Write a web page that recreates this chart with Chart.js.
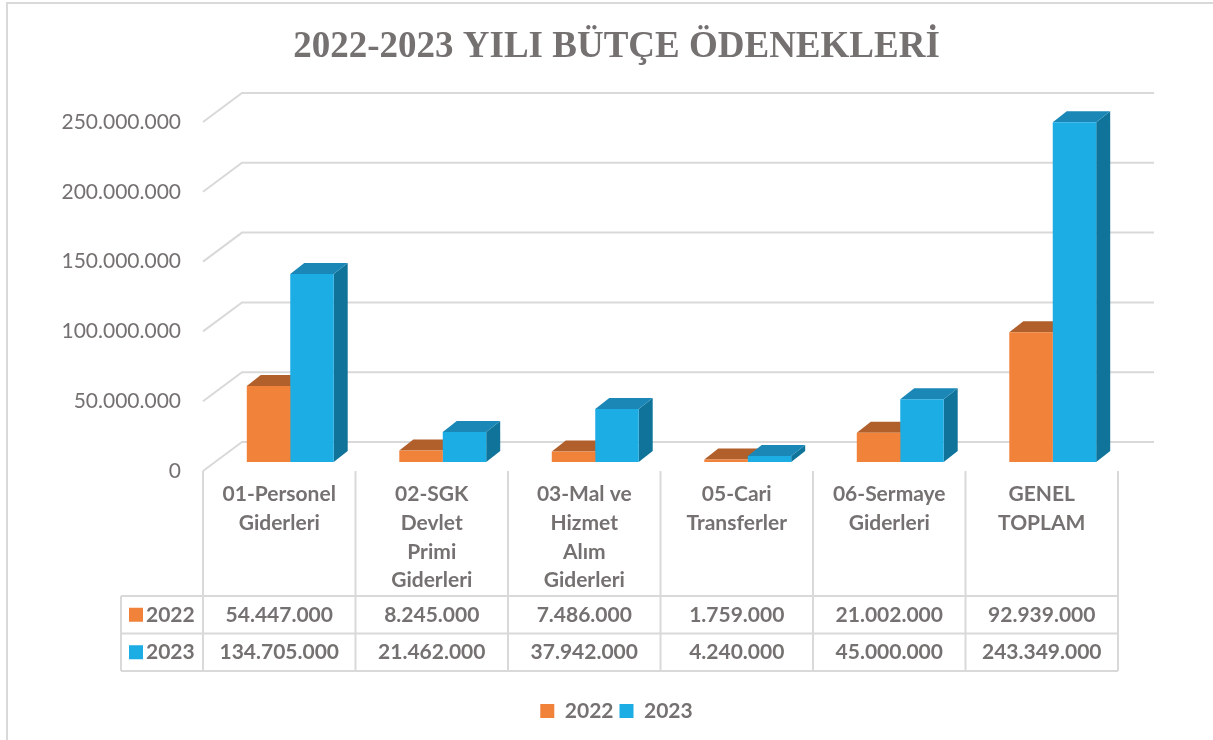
<!DOCTYPE html>
<html lang="tr">
<head>
<meta charset="UTF-8">
<title>2022-2023 Yılı Bütçe Ödenekleri</title>
<script src="https://cdn.jsdelivr.net/npm/chart.js"></script>
<style>
    html, body { margin: 0; padding: 0; background: #fff; overflow: hidden; }
    .wrap { position: relative; width: 1213px; height: 740px; overflow: hidden; }
    .frame { position: absolute; left: 6px; top: 2px; width: 1240px; height: 800px; border: 2px solid #d9d9d9; box-sizing: border-box; }
    .box { position: absolute; left: 0; top: 0; width: 1213px; height: 740px; }
</style>
</head>
<body>
<div class="wrap">
    <div class="frame"></div>
    <div class="box"><canvas id="budgetChart"></canvas></div>
</div>

<script>
    // Data
    var categories = [
        ['01-Personel', 'Giderleri'],
        ['02-SGK', 'Devlet', 'Primi', 'Giderleri'],
        ['03-Mal ve', 'Hizmet', 'Alım', 'Giderleri'],
        ['05-Cari', 'Transferler'],
        ['06-Sermaye', 'Giderleri'],
        ['GENEL', 'TOPLAM']
    ];
    var seriesNames = ['2022', '2023'];
    var values2022 = [54447000, 8245000, 7486000, 1759000, 21002000, 92939000];
    var values2023 = [134705000, 21462000, 37942000, 4240000, 45000000, 243349000];
    var yMax = 250000000;
    var yStep = 50000000;

    // Styles
    var textColor = '#767171';
    var gridColor = '#d9d9d9';
    var fronts = ['#f0823a', '#1cade4'];
    var tops = ['#b1602c', '#1a87b7'];
    var sides = ['#a4561f', '#10749a'];

    // 3D offsets
    var DX = 14, DY = -11;        // bar depth
    var WX = 39, WY = -29;        // wall depth
    var SHIFT_X = -11, SHIFT_Y = 9;   // bar plane -> front plane

    function fmt(v) {
        return String(v).replace(/\B(?=(\d{3})+(?!\d))/g, '.');
    }

    var bar3d = {
        id: 'bar3d',
        beforeDatasetsDraw: function(chart) {
            var ctx = chart.ctx, ys = chart.scales.y;
            var left = chart.chartArea.left + SHIFT_X;
            var right = chart.chartArea.right + SHIFT_X;
            ctx.save();
            // back wall + left side grid
            ctx.strokeStyle = gridColor;
            ctx.lineWidth = 2;
            ys.ticks.forEach(function(t) {
                var py = ys.getPixelForValue(t.value) + SHIFT_Y;
                ctx.beginPath();
                ctx.moveTo(left, py);
                ctx.lineTo(left + WX, py + WY);
                ctx.lineTo(right + WX - 3, py + WY);
                ctx.stroke();
            });
            // top and side faces
            var metas = chart.getSortedVisibleDatasetMetas();
            for (var i = 0; i < categories.length; i++) {
                metas.forEach(function(meta, d) {
                    var el = meta.data[i];
                    var l = el.x - el.width / 2, r = el.x + el.width / 2;
                    var t = el.y, b = el.base;
                    ctx.fillStyle = sides[d];
                    ctx.beginPath();
                    ctx.moveTo(r, t);
                    ctx.lineTo(r + DX, t + DY);
                    ctx.lineTo(r + DX, b + DY);
                    ctx.lineTo(r, b);
                    ctx.closePath();
                    ctx.fill();
                    ctx.fillStyle = tops[d];
                    ctx.beginPath();
                    ctx.moveTo(l, t);
                    ctx.lineTo(r, t);
                    ctx.lineTo(r + DX, t + DY);
                    ctx.lineTo(l + DX, t + DY);
                    ctx.closePath();
                    ctx.fill();
                });
            }
            ctx.restore();
        },
        afterDraw: function(chart) {
            // data table
            var ctx = chart.ctx, xs = chart.scales.x, ys = chart.scales.y;
            var left = chart.chartArea.left + SHIFT_X;
            var right = chart.chartArea.right + SHIFT_X;
            var cw = (right - left) / categories.length;
            var top = ys.getPixelForValue(0) + SHIFT_Y;
            var rowTop = 596, rowH = 37.5, headLeft = 121;
            var bottom = rowTop + rowH * 2;
            ctx.save();
            ctx.strokeStyle = gridColor;
            ctx.lineWidth = 2;
            ctx.beginPath();
            for (var i = 0; i <= categories.length; i++) {
                ctx.moveTo(left + i * cw, top);
                ctx.lineTo(left + i * cw, bottom);
            }
            ctx.moveTo(headLeft, rowTop);
            ctx.lineTo(headLeft, bottom);
            for (var k = 0; k <= 2; k++) {
                ctx.moveTo(headLeft, rowTop + k * rowH);
                ctx.lineTo(right, rowTop + k * rowH);
            }
            ctx.stroke();

            ctx.font = 'bold 21px Lato';
            ctx.fillStyle = textColor;
            ctx.textBaseline = 'middle';
            var rows = [values2022, values2023];
            rows.forEach(function(vals, r) {
                var cy = rowTop + rowH * r + rowH / 2;
                ctx.fillStyle = fronts[r];
                ctx.fillRect(129, cy - 7, 14, 14);
                ctx.fillStyle = textColor;
                ctx.textAlign = 'left';
                ctx.fillText(seriesNames[r], 146, cy);
                ctx.textAlign = 'center';
                vals.forEach(function(v, i) {
                    ctx.fillText(fmt(v), xs.getPixelForValue(i) + SHIFT_X, cy);
                });
            });
            ctx.restore();
        }
    };

    var ctx = document.getElementById('budgetChart').getContext('2d');
    var budgetChart = new Chart(ctx, {
        type: 'bar',
        data: {
            labels: categories,
            datasets: [{
                label: seriesNames[0],
                data: values2022,
                backgroundColor: fronts[0],
                borderWidth: 0
            }, {
                label: seriesNames[1],
                data: values2023,
                backgroundColor: fronts[1],
                borderWidth: 0
            }]
        },
        options: {
            responsive: true,
            maintainAspectRatio: false,
            animation: false,
            categoryPercentage: 0.57,
            barPercentage: 1,
            layout: { padding: { left: 20, right: 0, top: 0, bottom: 8.5 } },
            plugins: {
                title: {
                    display: true,
                    text: '2022-2023 YILI BÜTÇE ÖDENEKLERİ',
                    color: textColor,
                    font: { family: 'Liberation Serif', size: 37, weight: 'bold', lineHeight: 1.2 },
                    padding: { top: 25, bottom: 43.6 }
                },
                legend: {
                    position: 'bottom',
                    labels: {
                        boxWidth: 14,
                        boxHeight: 14,
                        padding: 6,
                        color: textColor,
                        font: { family: 'Lato', size: 21, weight: 'bold' }
                    }
                },
                tooltip: { enabled: false }
            },
            scales: {
                x: {
                    grid: { display: false, drawTicks: false },
                    border: { display: false },
                    ticks: {
                        color: textColor,
                        font: { family: 'Lato', size: 21, weight: 'bold', lineHeight: 1.367 },
                        padding: 18,
                        labelOffset: SHIFT_X,
                        maxRotation: 0,
                        autoSkip: false
                    },
                    afterFit: function(s) { s.height = 232.5; }
                },
                y: {
                    min: 0,
                    max: yMax,
                    grid: { display: false, drawTicks: false },
                    border: { display: false },
                    ticks: {
                        stepSize: yStep,
                        color: textColor,
                        font: { family: 'Lato', size: 21 },
                        padding: 33,
                        labelOffset: SHIFT_Y,
                        callback: function(v) { return fmt(v); }
                    },
                    afterFit: function(s) { s.width = 194; }
                },
                y2: {
                    type: 'linear',
                    position: 'right',
                    grid: { display: false, drawTicks: false },
                    border: { display: false },
                    ticks: { display: false },
                    afterFit: function(s) { s.width = 84; }
                }
            }
        },
        plugins: [bar3d]
    });
</script>
</body>
</html>
